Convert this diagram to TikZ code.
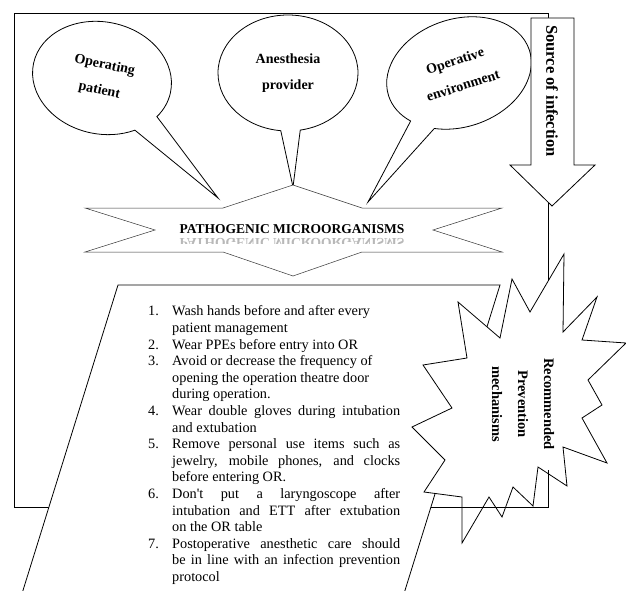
\documentclass[tikz,border=0pt]{standalone}
\usepackage{fontspec}
\setmainfont{Liberation Serif}
\usetikzlibrary{shapes.callouts}

\newcommand{\stepitem}[2]{\par\noindent\hangindent=24pt\hangafter=1\makebox[24pt][l]{#1}#2}

\begin{document}
\begin{tikzpicture}[x=1pt,y=-1pt,line join=miter,
  every node/.style={font=\bfseries\fontsize{14}{26}\selectfont,align=center,inner sep=0pt},
  frameline/.style={draw=black,line width=0.8pt},
  thinline/.style={draw=black!80,line width=0.5pt},
  bubble/.style={ellipse callout,draw=black,line width=0.8pt,fill=white},
  listtext/.style={font=\fontsize{14.3}{16.6}\selectfont,text width=252pt,align=justify}]
\clip (0,0) rectangle (626,591);
% outer frame
\draw[frameline] (14,13) rectangle (548,507);
% the three sources
\node[bubble,rotate=-12,minimum width=140pt,minimum height=112pt,callout absolute pointer={(218,198)},callout pointer arc=24] (patient) at (102,78) {Operating\\patient};
\node[bubble,minimum width=140pt,minimum height=116pt,callout absolute pointer={(293,187)},callout pointer arc=16] (provider) at (288,73) {Anesthesia\\provider};
\node[bubble,rotate=18,minimum width=148pt,minimum height=108pt,callout absolute pointer={(368,202)},callout pointer arc=22] (environ) at (459,73) {Operative\\environment};
% source arrow
\draw[frameline,fill=white] (531,18) -- (574,18) -- (574,165) -- (595,165) -- (552,206) -- (510,165) -- (531,165) -- cycle;
\node[rotate=-90,font=\bfseries\fontsize{16.5}{20}\selectfont] (source) at (552,91) {Source of infection};
% banner
\draw[thinline,fill=white] (85,208) -- (223,208) -- (293,185) -- (362,208) -- (502,208) -- (433,230) -- (502,252) -- (362,252) -- (293,276) -- (223,252) -- (85,252) -- (155,230) -- cycle;
\node[font=\bfseries\fontsize{13.5}{16}\selectfont] (germs) at (292,229) {PATHOGENIC MICROORGANISMS};
\begin{scope}
  \clip (160,237) rectangle (420,243.5);
  \node[yscale=-1,text=black!28,font=\bfseries\fontsize{13.5}{16}\selectfont] (germsmirror) at (292,243) {PATHOGENIC MICROORGANISMS};
\end{scope}
% list of measures
\draw[frameline,fill=white] (118,285) -- (500,285) -- (402,600) -- (20,600) -- cycle;
\node[listtext,anchor=north west] (steps) at (148,299) {%
\stepitem{1.}{Wash hands before and after every\newline patient management}
\stepitem{2.}{Wear PPEs before entry into OR}
\stepitem{3.}{Avoid or decrease the frequency of\newline opening the operation theatre door\newline during operation.}
\stepitem{4.}{Wear double gloves during intubation\linebreak and extubation}
\stepitem{5.}{Remove personal use items such as\linebreak jewelry, mobile phones, and clocks\linebreak before entering OR.}
\stepitem{6.}{Don\textquotesingle t put a laryngoscope after\linebreak intubation and ETT after extubation\linebreak on the OR table}
\stepitem{7.}{Postoperative anesthetic care should\linebreak be in line with an infection prevention\linebreak protocol}\par};
% prevention burst
\draw[frameline,fill=white] (564,254) -- (563,332) -- (597,297) -- (582,340) -- (626,343) -- (588,380) -- (602,405) -- (582,418) -- (607,463) -- (563,447) -- (567,486) -- (538,467) -- (533,506) -- (513,487) -- (502,517) -- (489,497) -- (462,543) -- (462,497) -- (424,492) -- (445,460) -- (412,427) -- (452,408) -- (423,365) -- (467,358) -- (458,302) -- (500,338) -- (512,279) -- (530,312) -- cycle;
\node[rotate=-90,font=\bfseries\fontsize{14.5}{26}\selectfont] (prevent) at (523,404) {Recommended\\Prevention\\mechanisms};
\draw[frameline] (548,470) -- (548,507) -- (433,507);
\end{tikzpicture}
\end{document}
